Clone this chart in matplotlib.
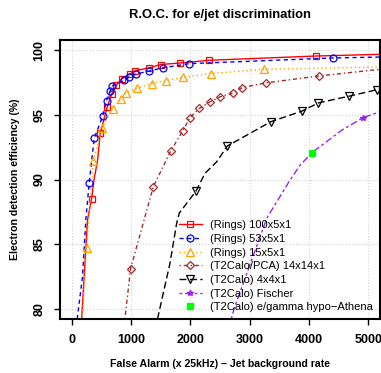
import matplotlib
matplotlib.use('Agg')
import matplotlib.pyplot as plt

plt.rcParams['font.family'] = ['Liberation Sans', 'DejaVu Sans']

# curves: line points, with the marker points picked by index
rings100_x = [165, 265, 333, 375, 434, 480, 596, 671, 750, 845, 975, 1070, 1301, 1498, 1824, 2319, 4122, 5200]
rings100_y = [79.2, 86.9, 88.5, 90.0, 91.5, 93.6, 95.6, 96.6, 97.3, 97.8, 98.15, 98.42, 98.64, 98.9, 99.02, 99.23, 99.56, 99.69]
rings100_mk = [2, 5, 6, 7, 8, 9, 10, 11, 12, 13, 14, 15, 16]

rings53_x = [90, 180, 236, 293, 377, 520, 586, 648, 685, 880, 960, 1076, 1301, 1532, 1981, 4404, 5200]
rings53_y = [79.2, 82.5, 86.9, 89.75, 93.18, 94.9, 96.1, 96.85, 97.25, 97.68, 97.94, 98.15, 98.4, 98.64, 98.97, 99.41, 99.48]
rings53_mk = [3, 4, 5, 6, 7, 8, 9, 10, 11, 12, 13, 14, 15]

rings15_x = [175, 248, 360, 510, 687, 822, 912, 1093, 1346, 1583, 1870, 2343, 3243, 5200]
rings15_y = [79.2, 84.69, 91.4, 93.97, 95.47, 96.2, 96.71, 97.05, 97.43, 97.66, 97.9, 98.2, 98.53, 98.71]
rings15_mk = [1, 2, 3, 4, 5, 6, 7, 8, 9, 10, 11, 12]

pca_x = [895, 991, 1374, 1667, 1869, 1993, 2151, 2331, 2500, 2725, 2877, 3272, 4177, 5200]
pca_y = [79.2, 83.09, 89.44, 92.2, 93.75, 94.8, 95.5, 96.01, 96.4, 96.71, 97.12, 97.48, 98.02, 98.53]
pca_mk = [1, 2, 3, 4, 5, 6, 7, 8, 9, 10, 11, 12]

t2calo_x = [1445, 1655, 1768, 1813, 2095, 2247, 2444, 2623, 3356, 3880, 4161, 4679, 5157, 5200]
t2calo_y = [79.2, 83.5, 86.6, 87.4, 89.1, 90.48, 91.37, 92.59, 94.47, 95.29, 95.93, 96.45, 96.96, 97.0]
t2calo_mk = [4, 7, 8, 9, 10, 11, 12]

fischer_x = [2690, 2742, 3289, 3682, 3851, 4049, 4556, 4921, 5200]
fischer_y = [79.2, 80.05, 87.0, 89.96, 91.1, 92.07, 93.82, 94.8, 95.24]
fischer_mk = [7]

athena_x = [4049]
athena_y = [92.07]

labels = ['(Rings) 100x5x1', '(Rings) 53x5x1', '(Rings) 15x5x1', '(T2Calo/PCA) 14x14x1',
          '(T2Calo) 4x4x1', '(T2Calo) Fischer', '(T2Calo) e/gamma hypo\u2212Athena']

fig = plt.figure(figsize=(3.81, 3.73), dpi=100)
ax = fig.add_axes([60 / 381, 1 - 319 / 373, 320 / 381, 279 / 373])

ax.plot(rings100_x, rings100_y, color='red', lw=1, marker='s', mfc='none', ms=5, mew=0.9,
        markevery=rings100_mk, label=labels[0])
ax.plot(rings53_x, rings53_y, color='blue', lw=1, ls=(0, (3, 2.5)), marker='o', mfc='none', ms=5, mew=0.9,
        markevery=rings53_mk, label=labels[1])
ax.plot(rings15_x, rings15_y, color='orange', lw=1, ls=(0, (1, 2)), marker='^', mfc='none', ms=6, mew=0.9,
        markevery=rings15_mk, label=labels[2])
ax.plot(pca_x, pca_y, color='#A52A2A', lw=1, ls=(0, (1, 2, 3, 2)), marker='D', mfc='none', ms=4.5, mew=0.9,
        markevery=pca_mk, label=labels[3])
ax.plot(t2calo_x, t2calo_y, color='black', lw=1, ls=(0, (5, 2.5)), marker='v', mfc='none', ms=6, mew=0.9,
        markevery=t2calo_mk, label=labels[4])
ax.plot(fischer_x, fischer_y, color='#A020F0', lw=1, ls=(0, (2, 2, 5, 2)), marker='*', ms=4,
        markevery=fischer_mk, label=labels[5])
ax.plot(athena_x, athena_y, ls='none', marker='s', color='#00FF00', ms=5, label=labels[6])

ax.set_xlim(-200, 5200)
ax.set_ylim(79.2, 100.8)
ax.set_xticks([0, 1000, 2000, 3000, 4000, 5000])
ax.set_yticks([80, 85, 90, 95, 100])
ax.grid(True, color='lightgray', ls=':', lw=0.8)
ax.set_axisbelow(True)

for s in ax.spines.values():
    s.set_linewidth(1.5)
ax.tick_params(direction='out', length=4.5, width=1, labelsize=9, pad=6)
for t in ax.get_xticklabels():
    t.set_fontweight('bold')
for t in ax.get_yticklabels():
    t.set_fontweight('bold')
    t.set_rotation(90)
    t.set_va('center')

ax.set_title('R.O.C. for e/jet discrimination', fontsize=9.4, fontweight='bold', pad=16)
ax.set_xlabel('False Alarm (x 25kHz) \u2013 Jet background rate', fontsize=7.6, fontweight='bold', labelpad=10)
ax.set_ylabel('Electron detection efficiency (%)', fontsize=7.6, fontweight='bold', labelpad=10)

# transparent legend box in the lower right corner, like R's legend()
leg = ax.legend(loc='lower right', bbox_to_anchor=(1.0, 0.0), borderaxespad=0, fontsize=8,
                numpoints=1, framealpha=0, fancybox=False, edgecolor='black', labelspacing=0.33,
                handlelength=2.0, handletextpad=0.8, borderpad=0.6)
leg.get_frame().set_linewidth(1.0)

fig.savefig('out.png', dpi=100)
